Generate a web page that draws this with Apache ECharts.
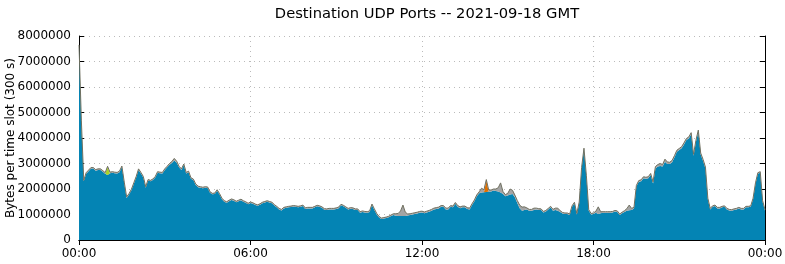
<!DOCTYPE html>
<html>
<head>
<meta charset="utf-8">
<script src="https://cdn.jsdelivr.net/npm/echarts@6/dist/echarts.min.js"></script>
<style>html,body{margin:0;padding:0;background:#fff}#c{width:785px;height:264px}</style>
</head>
<body>
<div id="c"></div>
<script>
// Values in millions of bytes per 5-minute slot, one row per hour (12 slots), plus the final 24:00 point
const blueM = [
  7.6,4.5,2.3,2.6,2.7,2.8,2.8,2.72,2.75,2.75,2.68,2.6,
  2.55,2.62,2.64,2.62,2.61,2.66,2.86,2.23,1.65,1.78,1.95,2.2,
  2.45,2.75,2.61,2.45,2.05,2.33,2.3,2.35,2.45,2.64,2.62,2.61,
  2.75,2.85,2.95,3.02,3.12,3.03,2.85,2.75,2.94,2.61,2.66,2.4,
  2.35,2.16,2.07,2.05,2.03,2.05,2.04,1.85,1.79,1.8,1.93,1.78,
  1.6,1.5,1.46,1.52,1.57,1.54,1.48,1.52,1.56,1.5,1.46,1.4,
  1.45,1.42,1.37,1.34,1.38,1.44,1.47,1.5,1.47,1.44,1.35,1.28,
  1.2,1.16,1.24,1.26,1.28,1.29,1.31,1.3,1.28,1.3,1.33,1.22,
  1.24,1.24,1.24,1.28,1.32,1.3,1.26,1.19,1.18,1.2,1.2,1.2,
  1.22,1.25,1.36,1.32,1.26,1.2,1.23,1.22,1.18,1.18,1.07,1.1,
  1.08,1.07,1.1,1.37,1.18,1.0,0.88,0.82,0.84,0.86,0.89,0.94,
  0.98,0.95,0.94,0.94,0.94,0.94,0.96,0.98,1.0,1.02,1.04,1.07,
  1.08,1.05,1.08,1.11,1.15,1.2,1.22,1.24,1.3,1.3,1.2,1.2,
  1.3,1.28,1.42,1.3,1.25,1.28,1.28,1.22,1.2,1.37,1.52,1.72,
  1.83,1.86,1.87,1.88,1.9,1.9,1.94,1.92,1.9,1.86,1.8,1.72,
  1.75,1.78,1.8,1.68,1.45,1.25,1.15,1.18,1.2,1.15,1.15,1.18,
  1.2,1.18,1.18,1.08,1.12,1.2,1.28,1.15,1.18,1.15,1.1,1.04,
  1.02,1.02,0.98,1.3,1.44,1.0,1.45,2.8,3.56,2.5,1.15,1.0,
  1.02,1.07,1.02,1.05,1.07,1.07,1.07,1.07,1.08,1.12,1.1,0.98,
  1.05,1.1,1.15,1.17,1.18,1.24,2.1,2.28,2.3,2.42,2.4,2.42,
  2.55,2.22,2.8,2.88,2.9,2.88,3.07,2.98,2.98,3.05,3.25,3.46,
  3.53,3.6,3.75,3.92,3.98,4.15,3.3,3.85,4.25,3.35,3.1,2.8,
  1.6,1.2,1.3,1.33,1.24,1.24,1.28,1.3,1.2,1.16,1.15,1.18,
  1.2,1.24,1.2,1.2,1.28,1.28,1.3,1.6,2.2,2.6,2.64,1.5,
  1.15
];
const grayM = [
  .05,.05,.04,.04,.04,.04,.04,.04,.04,.04,.04,.04,
  .04,.04,.04,.04,.04,.04,.04,.04,.04,.04,.04,.04,
  .04,.04,.04,.04,.04,.04,.04,.04,.04,.04,.04,.04,
  .04,.04,.05,.06,.08,.06,.04,.04,.04,.04,.04,.04,
  .04,.04,.04,.04,.04,.04,.04,.04,.04,.04,.04,.04,
  .04,.04,.04,.04,.04,.04,.04,.04,.04,.04,.04,.04,
  .04,.04,.04,.04,.04,.04,.04,.04,.04,.04,.04,.04,
  .04,.04,.04,.04,.04,.04,.04,.04,.04,.04,.04,.04,
  .04,.04,.04,.04,.04,.04,.04,.04,.04,.04,.04,.04,
  .04,.04,.04,.04,.04,.04,.04,.04,.04,.04,.04,.04,
  .04,.04,.04,.04,.04,.04,.04,.04,.04,.04,.04,.04,
  .05,.08,.1,.2,.43,.15,.06,.05,.05,.05,.05,.05,
  .05,.05,.05,.05,.05,.05,.05,.05,.05,.05,.05,.05,
  .05,.05,.05,.05,.05,.05,.05,.05,.05,.05,.05,.05,
  .06,.17,.1,.04,.06,.06,.06,.08,.15,.38,.1,.06,
  .08,.22,.15,.08,.1,.12,.14,.12,.06,.05,.05,.07,
  .05,.05,.04,.04,.04,.04,.04,.05,.07,.1,.05,.04,
  .04,.04,.04,.04,.04,.04,.04,.04,.04,.04,.04,.04,
  .04,.06,.28,.06,.04,.04,.04,.04,.04,.04,.04,.04,
  .04,.05,.08,.2,.06,.04,.04,.05,.06,.06,.06,.06,
  .06,.06,.08,.08,.1,.08,.1,.08,.07,.07,.06,.06,
  .06,.06,.06,.06,.06,.06,.06,.06,.06,.06,.06,.06,
  .04,.04,.04,.04,.04,.04,.04,.04,.04,.04,.04,.04,
  .04,.04,.04,.04,.04,.04,.04,.04,.04,.04,.04,.04,
  .04
];
// sparse spikes: [slot index, value in millions]
const orangeSpikes = [[171, 0.45]];
const greenSpikes = [[1, 0.12], [12, 0.3]];
const slotMinutes = 5;
const slotsPerTick = 72; // 6 hours

const pad = n => String(n).padStart(2, '0');
const categories = blueM.map((_, i) => {
  const m = (i * slotMinutes) % 1440;
  return pad(Math.floor(m / 60)) + ':' + pad(m % 60);
});
const scale = arr => arr.map(v => Math.round(v * 1e6));
const fromSparse = sp => { const a = blueM.map(() => 0); sp.forEach(([i, v]) => a[i] = v); return a; };
const tickAt = i => i % slotsPerTick === 0;

const font = 'DejaVu Sans';
const chart = echarts.init(document.getElementById('c'));
const mkArea = (name, data, color, line) => ({
  name, type: 'line', stack: 'all', data: scale(data), symbol: 'none', showSymbol: false,
  areaStyle: { color, opacity: 1 }, lineStyle: line || { width: 0 }, animation: false, silent: true
});
const xBase = {
  type: 'category', data: categories, boundaryGap: false,
  axisLine: { show: true, lineStyle: { color: '#000', width: 1 } },
  axisTick: { show: true, inside: true, length: 5, interval: (i) => tickAt(i), lineStyle: { color: '#000' } }
};
chart.setOption({
  animation: false,
  title: { text: 'Destination UDP Ports -- 2021-09-18 GMT', left: 422, textAlign: 'center', top: 2,
    textStyle: { fontFamily: font, fontSize: 14.7, fontWeight: 'normal', color: '#000' } },
  grid: { left: 79, right: 20, top: 36, bottom: 24, containLabel: false, outerBoundsMode: 'none' },
  xAxis: [Object.assign({}, xBase, {
    position: 'bottom',
    axisLabel: { fontFamily: font, fontSize: 12, color: '#000', margin: 8, interval: (i) => tickAt(i), showMaxLabel: true },
    splitLine: { show: true, interval: (i) => tickAt(i), lineStyle: { color: '#bbb', type: [1, 4] } }
  }), Object.assign({}, xBase, {
    position: 'top',
    axisLabel: { show: false }, splitLine: { show: false }
  })],
  yAxis: [{
    type: 'value', min: 0, max: 8000000, interval: 1000000,
    name: 'Bytes per time slot (300 s)', nameLocation: 'middle', nameGap: 62, nameRotate: 90,
    nameMoveOverlap: false,
    nameTextStyle: { fontFamily: font, fontSize: 12, color: '#000' },
    axisLine: { show: true, lineStyle: { color: '#000', width: 1 } },
    axisTick: { show: true, inside: true, length: 5, lineStyle: { color: '#000' } },
    axisLabel: { fontFamily: font, fontSize: 12, color: '#000', margin: 8, formatter: v => String(v) },
    splitLine: { show: true, lineStyle: { color: '#bbb', type: [1, 4] } }
  }, {
    type: 'value', min: 0, max: 8000000, interval: 1000000, position: 'right',
    axisLine: { show: true, lineStyle: { color: '#000', width: 1 } },
    axisTick: { show: true, inside: true, length: 5, lineStyle: { color: '#000' } },
    axisLabel: { show: false }, splitLine: { show: false }
  }],
  series: [
    mkArea('blue', blueM, '#0484b4'),
    mkArea('orange', fromSparse(orangeSpikes), '#e07000'),
    mkArea('green', fromSparse(greenSpikes), '#a8d428'),
    mkArea('gray', grayM, '#a4a4a4', { width: 1, color: '#707060' })
  ]
});
</script>
</body>
</html>
